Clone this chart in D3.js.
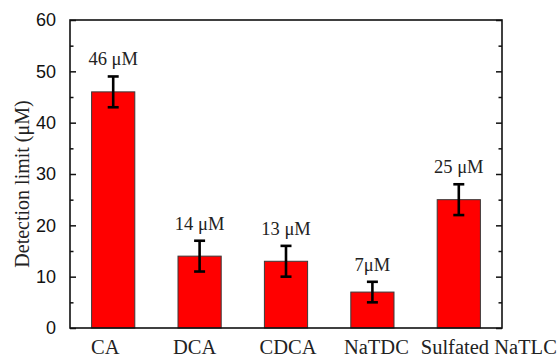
<!DOCTYPE html>
<html>
<head>
<meta charset="utf-8">
<script src="https://cdn.jsdelivr.net/npm/d3@7"></script>
<style>
  html, body { margin: 0; padding: 0; background: #fff; }
  svg { display: block; }
</style>
</head>
<body>
<svg id="chart" width="560" height="358"></svg>
<script>
// Detection limits of bile acids
const categories = ["CA", "DCA", "CDCA", "NaTDC", "Sulfated NaTLC"];
const values = [46, 14, 13, 7, 25];
const errors = [3, 3, 3, 2, 3];
const valueLabels = ["46 \u03BCM", "14 \u03BCM", "13 \u03BCM", "7\u03BCM", "25 \u03BCM"];
const yTicks = [0, 10, 20, 30, 40, 50, 60];
const yMinorTicks = [5, 15, 25, 35, 45, 55];

const W = 560, H = 358;
const margin = { left: 70, right: 58, top: 20, bottom: 30 };
const x0 = margin.left, x1 = W - margin.right;
const y0 = H - margin.bottom, y1 = margin.top;

const serif = "'Liberation Serif', 'Times New Roman', serif";
const sans = "'Liberation Sans', Arial, sans-serif";

const svg = d3.select("#chart");

const x = d3.scaleBand()
  .domain(categories)
  .range([x0, x1])
  .paddingInner(0.5)
  .paddingOuter(0.25);

const y = d3.scaleLinear().domain([0, 60]).range([y0, y1]);

// Bars
svg.append("g")
  .selectAll("rect")
  .data(categories)
  .join("rect")
  .attr("x", d => x(d))
  .attr("y", (d, i) => y(values[i]))
  .attr("width", x.bandwidth())
  .attr("height", (d, i) => y(0) - y(values[i]))
  .attr("fill", "#ff0000")
  .attr("stroke", "#3a3a3a")
  .attr("stroke-width", 1);

// Error bars
const capHalf = 5.5;
const eb = svg.append("g")
  .attr("stroke", "#000")
  .attr("stroke-width", 2.6)
  .attr("fill", "none");
categories.forEach((c, i) => {
  const cx = x(c) + x.bandwidth() / 2;
  const top = y(values[i] + errors[i]);
  const bot = y(values[i] - errors[i]);
  eb.append("line").attr("x1", cx).attr("x2", cx).attr("y1", top).attr("y2", bot);
  eb.append("line").attr("x1", cx - capHalf).attr("x2", cx + capHalf).attr("y1", top).attr("y2", top);
  eb.append("line").attr("x1", cx - capHalf).attr("x2", cx + capHalf).attr("y1", bot).attr("y2", bot);
});

// Value labels above the error bars
svg.append("g")
  .selectAll("text")
  .data(categories)
  .join("text")
  .attr("x", d => x(d) + x.bandwidth() / 2)
  .attr("y", (d, i) => y(values[i] + errors[i]) - 11)
  .attr("text-anchor", "middle")
  .attr("font-family", serif)
  .attr("font-size", 18.5)
  .attr("fill", "#222")
  .text((d, i) => valueLabels[i]);

// Left axis: labelled major ticks plus minor ticks, pointing inward
const leftAxis = d3.axisLeft(y).tickValues(yTicks).tickSizeInner(-6).tickSizeOuter(0).tickPadding(14);
const gL = svg.append("g").attr("transform", `translate(${x0},0)`).call(leftAxis);
gL.select(".domain").remove();
gL.selectAll(".tick line").attr("stroke", "#111").attr("stroke-width", 1.5);
gL.selectAll(".tick text")
  .attr("font-family", sans)
  .attr("font-size", 18)
  .attr("fill", "#111");
const gLm = svg.append("g").attr("transform", `translate(${x0},0)`)
  .call(d3.axisLeft(y).tickValues(yMinorTicks).tickSizeInner(-3.5).tickSizeOuter(0).tickFormat(""));
gLm.select(".domain").remove();
gLm.selectAll(".tick line").attr("stroke", "#111").attr("stroke-width", 1.5);

// Right axis: ticks only
const gR = svg.append("g").attr("transform", `translate(${x1},0)`)
  .call(d3.axisRight(y).tickValues(yTicks).tickSizeInner(-6).tickSizeOuter(0).tickFormat(""));
gR.select(".domain").remove();
gR.selectAll(".tick line").attr("stroke", "#111").attr("stroke-width", 1.5);
const gRm = svg.append("g").attr("transform", `translate(${x1},0)`)
  .call(d3.axisRight(y).tickValues(yMinorTicks).tickSizeInner(-3.5).tickSizeOuter(0).tickFormat(""));
gRm.select(".domain").remove();
gRm.selectAll(".tick line").attr("stroke", "#111").attr("stroke-width", 1.5);

// Frame
svg.append("rect")
  .attr("x", x0).attr("y", y1)
  .attr("width", x1 - x0).attr("height", y0 - y1)
  .attr("fill", "none")
  .attr("stroke", "#111")
  .attr("stroke-width", 1.6);

// Category labels; the long last one is pushed right so it clears its neighbour
const labelShift = [-8, -5, 2, 4, 30];
svg.append("g")
  .selectAll("text")
  .data(categories)
  .join("text")
  .attr("x", (d, i) => x(d) + x.bandwidth() / 2 + labelShift[i])
  .attr("y", 354)
  .attr("text-anchor", "middle")
  .attr("font-family", serif)
  .attr("font-size", 20.5)
  .attr("fill", "#222")
  .text(d => d);

// Y axis title
svg.append("text")
  .attr("transform", `translate(29,${(y0 + y1) / 2 + 10}) rotate(-90)`)
  .attr("text-anchor", "middle")
  .attr("font-family", serif)
  .attr("font-size", 20)
  .attr("fill", "#222")
  .text("Detection limit (\u03BCM)");
</script>
</body>
</html>
